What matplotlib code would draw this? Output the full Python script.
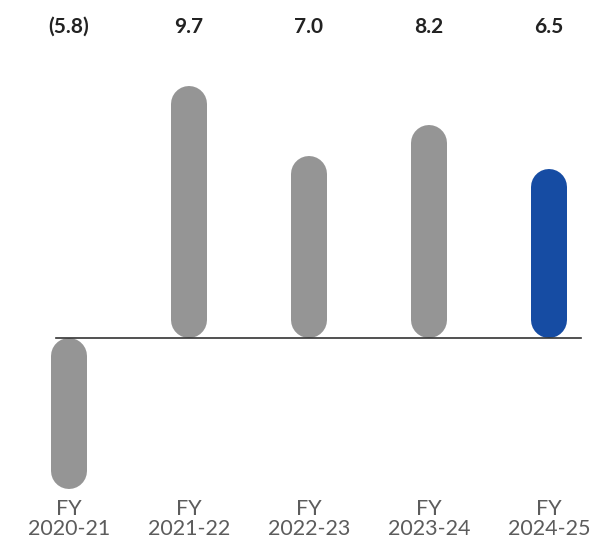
import matplotlib
matplotlib.use("Agg")
import matplotlib.pyplot as plt

years = ["FY\n2020-21", "FY\n2021-22", "FY\n2022-23", "FY\n2023-24", "FY\n2024-25"]
growth = [-5.8, 9.7, 7.0, 8.2, 6.5]
value_labels = ["(5.8)", "9.7", "7.0", "8.2", "6.5"]
bar_colors = ["#959595", "#959595", "#959595", "#959595", "#164ca3"]

W, H, DPI = 592, 540, 100
px_per_unit = 26.0  # vertical scale
base_px = 202  # baseline, pixels from bottom
bar_px = 36  # bar width in pixels

fig = plt.figure(figsize=(W / DPI, H / DPI), dpi=DPI)
ax = fig.add_axes([0, 0, 1, 1])
ax.set_xlim(-69 / 120, (W - 69) / 120)
ax.set_ylim(-base_px / px_per_unit, (H - base_px) / px_per_unit)
ax.axis("off")

r = bar_px / 2 / px_per_unit  # cap radius in data units
lw_pt = bar_px * 72 / DPI
for i, (v, c) in enumerate(zip(growth, bar_colors)):
    sign = 1 if v > 0 else -1
    ax.plot([i, i], [sign * r, v - sign * r], color=c, lw=lw_pt,
            solid_capstyle="round")

ax.plot([-0.11, 4.268], [0, 0], color="#333333", lw=1.2)

font = ["Lato", "DejaVu Sans"]
for i, lab in enumerate(value_labels):
    ax.text(i, 1 - 27 / H, lab, transform=ax.get_xaxis_transform(),
            ha="center", va="center", fontsize=15, fontweight="bold",
            color="#222222", family=font)

for i, lab in enumerate(years):
    ax.text(i, 1 - 519 / H, lab, transform=ax.get_xaxis_transform(),
            ha="center", va="center", fontsize=15.5, fontweight="normal",
            color="#5c5c5c", family=font, linespacing=0.95)

fig.savefig("out.png", dpi=DPI)
